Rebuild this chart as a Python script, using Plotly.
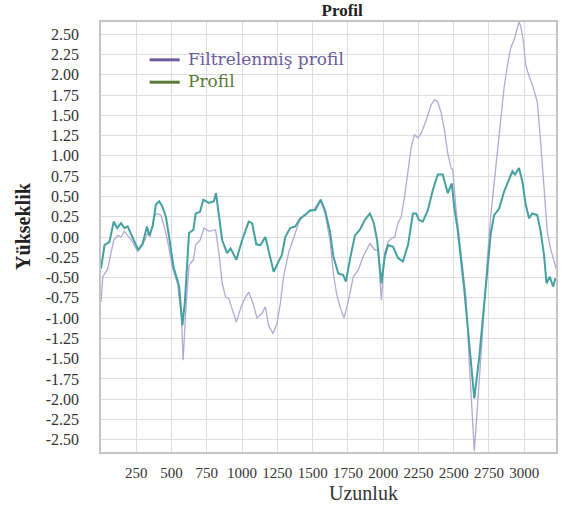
import plotly.graph_objects as go

# ---- data ----
profil_x = [0, 25, 60, 90, 114, 142, 166, 189, 217, 264, 295, 326, 342, 366, 389, 413, 436, 460, 483, 514,
            554, 577, 594, 624, 655, 671, 702, 725, 765, 800, 815, 836, 859, 894, 918, 960, 1000, 1047, 1071, 1101,
            1130, 1165, 1188, 1224, 1259, 1282, 1306, 1341, 1377, 1412, 1447, 1482, 1518, 1557, 1588, 1623, 1647, 1682, 1717, 1736,
            1764, 1800, 1835, 1870, 1906, 1934, 1957, 1976, 1987, 2011, 2035, 2070, 2105, 2140, 2176, 2211, 2234, 2253, 2281, 2317,
            2352, 2387, 2422, 2458, 2486, 2505, 2528, 2575, 2611, 2646, 2681, 2716, 2740, 2763, 2787, 2822, 2857, 2893, 2916, 2935,
            2963, 2987, 3010, 3034, 3057, 3092, 3116, 3140, 3158, 3181, 3204, 3221]
profil_y = [-0.39, -0.10, -0.06, 0.19, 0.11, 0.17, 0.11, 0.13, 0.02, -0.16, -0.08, 0.13, 0.02, 0.13, 0.40, 0.44, 0.37, 0.25, 0.0, -0.37,
            -0.61, -1.09, -0.81, 0.05, 0.09, 0.29, 0.31, 0.46, 0.42, 0.44, 0.54, 0.29, -0.04, -0.20, -0.14, -0.28, -0.04, 0.19, 0.17, -0.09,
            -0.10, 0.0, -0.18, -0.43, -0.30, -0.22, 0.0, 0.11, 0.13, 0.23, 0.27, 0.33, 0.33, 0.46, 0.33, 0.07, -0.24, -0.45, -0.47, -0.55,
            -0.28, 0.02, 0.09, 0.21, 0.29, 0.17, -0.04, -0.37, -0.57, -0.24, -0.10, -0.12, -0.26, -0.30, -0.10, 0.29, 0.29, 0.21, 0.19, 0.33,
            0.58, 0.77, 0.77, 0.54, 0.66, 0.35, 0.09, -0.65, -1.35, -1.99, -1.48, -0.82, -0.32, 0.05, 0.27, 0.35, 0.56, 0.72, 0.81, 0.77,
            0.85, 0.68, 0.40, 0.23, 0.29, 0.27, 0.07, -0.22, -0.57, -0.49, -0.61, -0.51]

filtre_x = [0, 13, 48, 72, 90, 119, 142, 166, 189, 217, 260, 295, 330, 349, 372, 389, 424, 448, 471, 506,
            542, 570, 582, 601, 624, 655, 671, 702, 730, 765, 812, 836, 859, 883, 906, 930, 960, 989, 1024, 1047,
            1078, 1106, 1141, 1165, 1188, 1219, 1247, 1271, 1294, 1329, 1365, 1400, 1435, 1470, 1506, 1557, 1588, 1623, 1647, 1670,
            1694, 1722, 1752, 1788, 1823, 1858, 1906, 1941, 1965, 1987, 2011, 2035, 2058, 2082, 2105, 2128, 2152, 2176, 2199, 2223,
            2246, 2270, 2305, 2340, 2364, 2387, 2411, 2434, 2458, 2481, 2493, 2516, 2552, 2587, 2611, 2646, 2681, 2716, 2740, 2763,
            2787, 2810, 2834, 2857, 2881, 2904, 2928, 2944, 2963, 2975, 2994, 3010, 3034, 3057, 3092, 3116, 3140, 3163, 3186, 3210, 3226]
filtre_y = [-0.80, -0.49, -0.39, -0.20, -0.04, 0.02, 0.0, 0.07, 0.02, -0.04, -0.18, -0.10, 0.05, 0.0, 0.21, 0.29, 0.27, 0.13, -0.04, -0.37,
            -0.57, -0.98, -1.52, -0.90, -0.35, -0.28, -0.10, -0.04, 0.11, 0.07, 0.09, -0.20, -0.57, -0.74, -0.76, -0.90, -1.05, -0.88, -0.74, -0.68,
            -0.82, -1.00, -0.94, -0.86, -1.09, -1.19, -1.07, -0.82, -0.49, -0.20, -0.02, 0.17, 0.27, 0.31, 0.33, 0.46, 0.29, -0.04, -0.45, -0.70,
            -0.86, -1.00, -0.80, -0.49, -0.41, -0.24, -0.08, -0.16, -0.16, -0.78, -0.20, -0.06, -0.02, 0.0, 0.17, 0.25, 0.50, 0.79, 1.11, 1.26,
            1.22, 1.28, 1.44, 1.63, 1.69, 1.67, 1.53, 1.32, 1.03, 0.85, 0.83, 0.35, -0.22, -0.74, -1.56, -2.64, -1.77, -0.82, -0.24, 0.27,
            0.68, 1.09, 1.51, 1.84, 2.12, 2.33, 2.43, 2.53, 2.65, 2.60, 2.41, 2.12, 1.98, 1.88, 1.67, 1.18, 0.56, 0.07, -0.14, -0.30, -0.39]

x_ticks = [250, 500, 750, 1000, 1250, 1500, 1750, 2000, 2250, 2500, 2750, 3000]
y_ticks = [-2.5, -2.25, -2.0, -1.75, -1.5, -1.25, -1.0, -0.75, -0.5, -0.25, 0.0,
           0.25, 0.5, 0.75, 1.0, 1.25, 1.5, 1.75, 2.0, 2.25, 2.5]
y_tick_text = ["%.2f" % v for v in y_ticks]

legend_names = ["Filtrelenmiş profil", "Profil"]
legend_colors = ["#6b5c9c", "#5c7a38"]

SERIF = "Liberation Serif"
LEG_FONT = "DejaVu Serif"

fig = go.Figure()
fig.add_trace(go.Scatter(x=filtre_x, y=filtre_y, mode="lines", showlegend=False,
                         name=legend_names[0], line=dict(color="#b4a9d2", width=1.3)))
fig.add_trace(go.Scatter(x=profil_x, y=profil_y, mode="lines", showlegend=False,
                         name=legend_names[1], line=dict(color="#45a0a0", width=2)))

# manual legend (rows about 21 px apart, as in the reference)
shapes = []
annotations = []
row_y = [0.912, 0.860]
for name, col, yy in zip(legend_names, legend_colors, row_y):
    shapes.append(dict(type="line", xref="paper", yref="paper", x0=0.107, x1=0.173, y0=yy, y1=yy,
                       line=dict(color=col, width=3)))
    annotations.append(dict(text=name, xref="paper", yref="paper", x=0.186, y=yy + 0.002,
                            xanchor="left", yanchor="middle", showarrow=False,
                            font=dict(family=LEG_FONT, size=17, color=col)))

annotations += [
    dict(text="<b>Yükseklik</b>", textangle=-90, xref="paper", yref="paper",
         x=-0.17, y=0.525, xanchor="center", yanchor="middle", showarrow=False,
         font=dict(family=SERIF, size=20, color="#222222")),
    dict(text="Uzunluk", xref="paper", yref="paper",
         x=0.578, y=-0.095, xanchor="center", yanchor="middle", showarrow=False,
         font=dict(family=SERIF, size=20, color="#333333")),
]

fig.update_layout(
    width=563, height=506,
    margin=dict(l=101, r=5, t=22, b=54),
    paper_bgcolor="white", plot_bgcolor="white",
    font=dict(family=SERIF, color="#333333", size=15),
    title=dict(text="<b>Profil</b>", x=0.53, xref="paper", y=0.980, yanchor="middle",
               xanchor="center", font=dict(family=SERIF, size=17, color="#222222")),
    showlegend=False,
    shapes=shapes,
    annotations=annotations,
)
fig.update_xaxes(range=[0, 3225], tickvals=x_ticks, ticktext=[str(v) for v in x_ticks],
                 showgrid=True, gridcolor="#dedede", gridwidth=1, zeroline=False,
                 showline=True, linecolor="#c4c4c4", linewidth=1.5, mirror=True,
                 ticks="", ticklabelstandoff=6, tickfont=dict(family=SERIF, size=15, color="#333333"))
fig.update_yaxes(range=[-2.65, 2.65], tickvals=y_ticks, ticktext=y_tick_text,
                 showgrid=True, gridcolor="#dedede", gridwidth=1, zeroline=False,
                 showline=True, linecolor="#c4c4c4", linewidth=1.5, mirror=True,
                 ticks="", ticklabelstandoff=17, tickfont=dict(family=SERIF, size=16, color="#333333"))

fig.write_html("out.html", config={"displayModeBar": False},
               post_script="document.body.style.margin='0';")
